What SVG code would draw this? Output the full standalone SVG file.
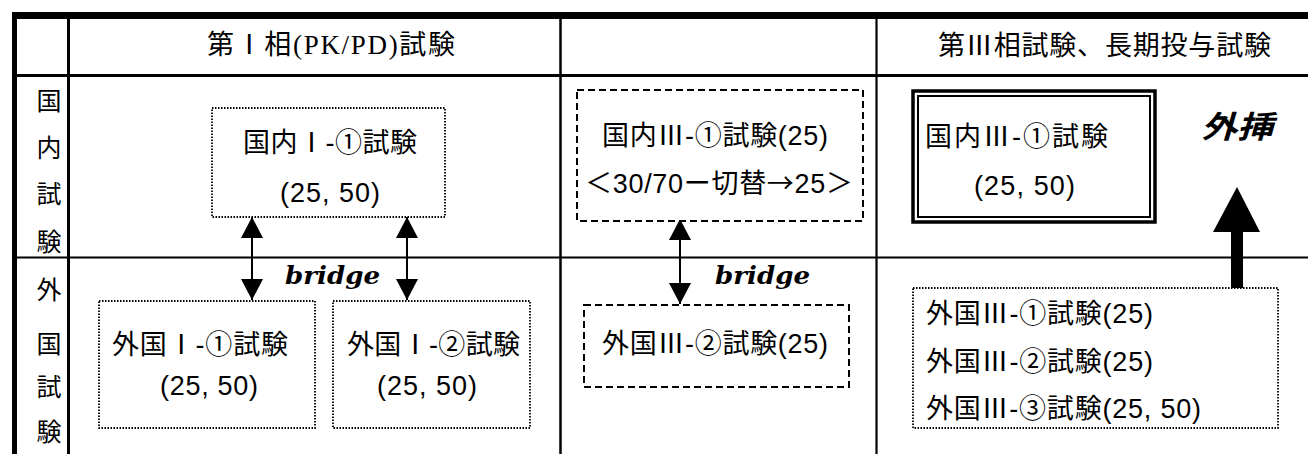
<svg xmlns="http://www.w3.org/2000/svg" width="1308" height="454" viewBox="0 0 1308 454">
<style>
.t{font-family:'Liberation Sans','Noto Sans CJK JP',sans-serif;font-size:27px;fill:#000}
.h{font-family:'Liberation Serif','Noto Sans CJK JP',serif;font-size:27px;fill:#000}
.lbl{font-family:'Noto Sans CJK JP',sans-serif;font-size:25px;fill:#000;text-anchor:middle}
.br{font-family:'DejaVu Serif',serif;font-size:24px;font-weight:bold;font-style:italic;fill:#000}
.cjk{font-family:'Noto Sans CJK JP',sans-serif}
.dot{fill:#fff;stroke:#000;stroke-width:1.8;stroke-dasharray:1.5 1.5}
.dash{fill:#fff;stroke:#000;stroke-width:2;stroke-dasharray:7 4}
.grid{stroke:#000;fill:none}
.conn{stroke:#000;stroke-width:2;fill:none}
</style>
<defs>
<marker id="ah" viewBox="0 0 21 22" refX="21" refY="11" markerWidth="21" markerHeight="22" markerUnits="userSpaceOnUse" orient="auto-start-reverse">
<path d="M0,0 L21,11 L0,22 z" fill="#000"/>
</marker>
</defs>
<rect width="1308" height="454" fill="#fff"/>
<g id="table">
<rect x="12" y="12" width="1296" height="7" fill="#000"/>
<rect x="12" y="12" width="5" height="442" fill="#000"/>
<line class="grid" x1="68.5" y1="19" x2="68.5" y2="454" stroke-width="3"/>
<line class="grid" x1="16" y1="75.5" x2="1308" y2="75.5" stroke-width="3"/>
<line class="grid" x1="16" y1="257.5" x2="1308" y2="257.5" stroke-width="2.2"/>
<line class="grid" x1="560.5" y1="19" x2="560.5" y2="454" stroke-width="2.5"/>
<line class="grid" x1="876.5" y1="19" x2="876.5" y2="454" stroke-width="2.2"/>
<text class="h" x="207" y="54" textLength="248" lengthAdjust="spacing">第Ⅰ相(PK/PD)試験</text>
<text class="h" x="938" y="55" textLength="333" lengthAdjust="spacing">第Ⅲ相試験、長期投与試験</text>
<text class="lbl" x="49" y="110">国</text>
<text class="lbl" x="49" y="157">内</text>
<text class="lbl" x="49" y="203">試</text>
<text class="lbl" x="49" y="251">験</text>
<text class="lbl" x="49" y="299">外</text>
<text class="lbl" x="49" y="353">国</text>
<text class="lbl" x="49" y="396">試</text>
<text class="lbl" x="49" y="441">験</text>
</g>
<g id="connectors">
<line class="conn" x1="252" y1="217" x2="252" y2="300" marker-start="url(#ah)" marker-end="url(#ah)"/>
<line class="conn" x1="407" y1="217" x2="407" y2="300" marker-start="url(#ah)" marker-end="url(#ah)"/>
<line class="conn" x1="680" y1="219" x2="680" y2="304" marker-start="url(#ah)" marker-end="url(#ah)"/>
<text class="br" x="285" y="284" textLength="95" lengthAdjust="spacingAndGlyphs">bridge</text>
<text class="br" x="715" y="284" textLength="95" lengthAdjust="spacingAndGlyphs">bridge</text>
<polygon points="1231,290 1231,232 1213,232 1237,187 1260,232 1243,232 1243,290" fill="#000"/>
<text x="1201" y="138" font-family="'Noto Sans CJK JP',sans-serif" font-size="31" font-weight="bold" font-style="italic" textLength="72" lengthAdjust="spacingAndGlyphs">外挿</text>
</g>
<g id="node-dom1">
<rect class="dot" x="212" y="108" width="233" height="109"/>
<text class="t" x="243" y="152" textLength="174" lengthAdjust="spacing">国内Ⅰ-①試験</text>
<text class="t" x="280" y="202" textLength="100" lengthAdjust="spacing">(25, 50)</text>
</g>
<g id="node-for1">
<rect class="dot" x="99" y="301" width="216" height="127"/>
<text class="t" x="112" y="354" textLength="176" lengthAdjust="spacing">外国Ⅰ-①試験</text>
<text class="t" x="160" y="395" textLength="98" lengthAdjust="spacing">(25, 50)</text>
</g>
<g id="node-for2">
<rect class="dot" x="333" y="301" width="197" height="127"/>
<text class="t" x="347" y="354" textLength="173" lengthAdjust="spacing">外国Ⅰ-②試験</text>
<text class="t" x="377" y="395" textLength="100" lengthAdjust="spacing">(25, 50)</text>
</g>
<g id="node-dom3a">
<rect class="dash" x="577" y="90" width="286" height="131"/>
<text class="t" x="602" y="145" textLength="226" lengthAdjust="spacing">国内Ⅲ-①試験(25)</text>
<text class="t" x="585" y="193" textLength="268" lengthAdjust="spacing">＜30/70ー切替<tspan class="cjk">→</tspan>25＞</text>
</g>
<g id="node-for3b">
<rect class="dash" x="584" y="305" width="265" height="82"/>
<text class="t" x="602" y="353" textLength="226" lengthAdjust="spacing">外国Ⅲ-②試験(25)</text>
</g>
<g id="node-dom3">
<rect x="913" y="91" width="242" height="131" fill="#fff" stroke="#000" stroke-width="3.5"/>
<rect x="918" y="96" width="232" height="121" fill="none" stroke="#000" stroke-width="2"/>
<text class="t" x="925" y="146" textLength="183" lengthAdjust="spacing">国内Ⅲ-①試験</text>
<text class="t" x="974" y="195" textLength="101" lengthAdjust="spacing">(25, 50)</text>
</g>
<g id="node-for3">
<rect class="dot" x="913" y="288" width="365" height="140"/>
<text class="t" x="926" y="323" textLength="227" lengthAdjust="spacing">外国Ⅲ-①試験(25)</text>
<text class="t" x="926" y="371" textLength="227" lengthAdjust="spacing">外国Ⅲ-②試験(25)</text>
<text class="t" x="926" y="418" textLength="275" lengthAdjust="spacing">外国Ⅲ-③試験(25, 50)</text>
</g>
</svg>
